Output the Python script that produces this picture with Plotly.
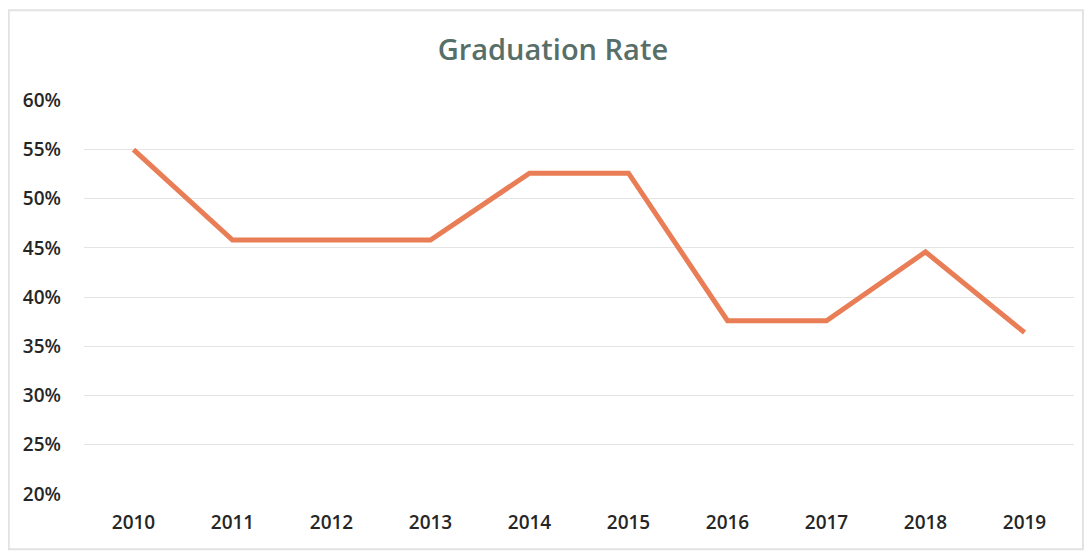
import plotly.graph_objects as go

years = ["2010", "2011", "2012", "2013", "2014", "2015", "2016", "2017", "2018", "2019"]
grad_rate = [0.550, 0.458, 0.458, 0.458, 0.526, 0.526, 0.376, 0.376, 0.446, 0.364]
y_ticks = [0.20, 0.25, 0.30, 0.35, 0.40, 0.45, 0.50, 0.55, 0.60]

FONT = "Open Sans, Liberation Sans, sans-serif"

fig = go.Figure()

fig.add_trace(
    go.Scatter(
        x=years,
        y=grad_rate,
        mode="lines",
        name="Graduation Rate",
        line=dict(color="#E97D55", width=5),
        hovertemplate="%{y:.1%}<extra></extra>",
    )
)

# page body adds an 8px offset, margins are set with that in mind
fig.update_layout(
    title=dict(
        text="Graduation Rate",
        x=0.499,
        xanchor="center",
        y=0.924,
        yanchor="middle",
        font=dict(family=FONT, size=29, color="#586E68", weight=600),
    ),
    width=1092,
    height=554,
    paper_bgcolor="white",
    plot_bgcolor="white",
    showlegend=False,
    margin=dict(t=92, b=68, l=76, r=26),
    font=dict(family=FONT, size=19, color="#262626"),
    xaxis=dict(
        type="category",
        range=[-0.5, 9.5],
        showgrid=False,
        showline=False,
        ticks="",
        ticklabelstandoff=15,
        tickfont=dict(size=19, color="#262626", weight=600),
    ),
    yaxis=dict(
        range=[0.1999, 0.6004],
        tickvals=y_ticks,
        tickformat=".0%",
        showgrid=True,
        gridcolor="#E4E4E4",
        gridwidth=1,
        zeroline=False,
        showline=False,
        ticks="",
        ticklabelstandoff=22,
        tickfont=dict(size=19, color="#262626", weight=600),
    ),
    shapes=[
        dict(
            type="rect",
            xref="paper",
            yref="paper",
            x0=-0.076,
            x1=1.009,
            y0=-0.14,
            y1=1.228,
            line=dict(color="#E2E2E2", width=2),
            layer="below",
        )
    ],
)

fig.write_html("out.html")
